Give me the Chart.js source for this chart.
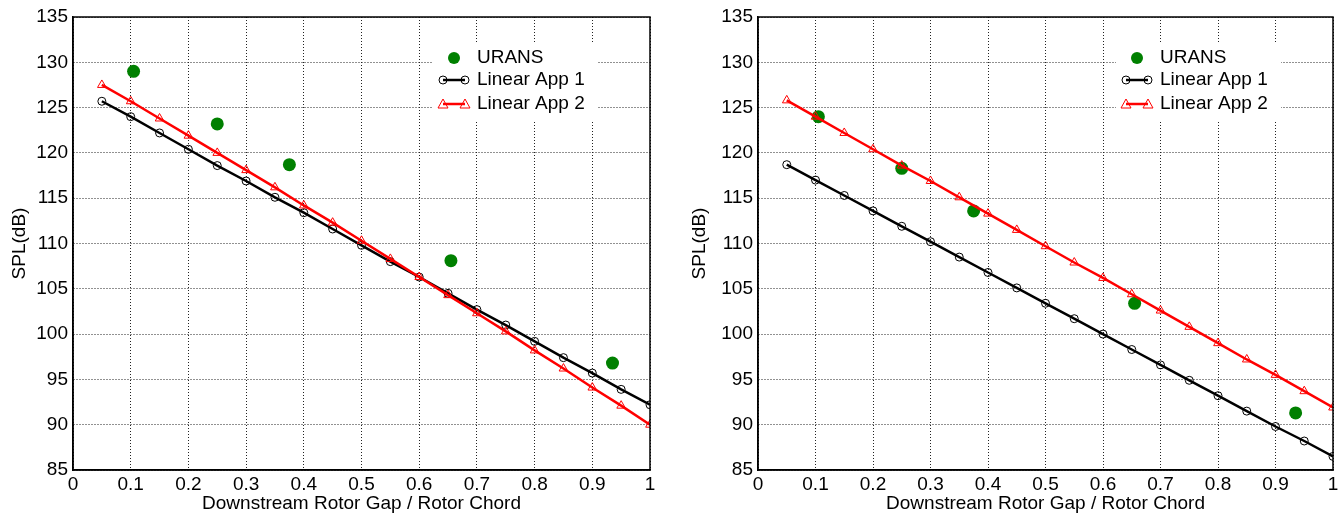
<!DOCTYPE html>
<html>
<head>
<meta charset="utf-8">
<script src="https://cdn.jsdelivr.net/npm/chart.js@4.4.0/dist/chart.umd.min.js"></script>
<style>
html, body { margin: 0; padding: 0; background: #fff; }
#c1 { position: absolute; left: 0; top: 0; }
#c2 { position: absolute; left: 680px; top: 0; }
</style>
</head>
<body>
<canvas id="c1" width="665" height="515"></canvas>
<canvas id="c2" width="663" height="515"></canvas>
<script>
// gap / chord positions of the linear approximations
var gaps = [0.05, 0.1, 0.15, 0.2, 0.25, 0.3, 0.35, 0.4, 0.45, 0.5, 0.55, 0.6, 0.65, 0.7, 0.75, 0.8, 0.85, 0.9, 0.95, 1.0];

// left panel
var leftApp1 = [125.7, 124.0, 122.2, 120.4, 118.6, 116.9, 115.1, 113.4, 111.6, 109.8, 108.0, 106.3, 104.5, 102.7, 101.0, 99.2, 97.4, 95.7, 93.9, 92.2];
var leftApp2 = [127.5, 125.7, 123.8, 121.9, 120.0, 118.1, 116.2, 114.2, 112.3, 110.3, 108.3, 106.3, 104.3, 102.3, 100.3, 98.2, 96.2, 94.1, 92.1, 90.0];
var leftUransX = [0.105, 0.25, 0.375, 0.655, 0.935];
var leftUransY = [129.0, 123.2, 118.7, 108.1, 96.8];

// right panel
var rightApp1 = [118.7, 117.0, 115.3, 113.6, 111.9, 110.2, 108.5, 106.8, 105.1, 103.4, 101.7, 100.0, 98.3, 96.6, 94.9, 93.2, 91.5, 89.8, 88.2, 86.5];
var rightApp2 = [125.8, 124.0, 122.2, 120.4, 118.6, 116.9, 115.1, 113.3, 111.5, 109.7, 107.9, 106.2, 104.4, 102.6, 100.8, 99.0, 97.2, 95.5, 93.7, 91.9];
var rightUransX = [0.105, 0.25, 0.375, 0.655, 0.935];
var rightUransY = [124.0, 118.3, 113.6, 103.4, 91.3];

var xTicks = [0, 0.1, 0.2, 0.3, 0.4, 0.5, 0.6, 0.7, 0.8, 0.9, 1];
var xTickLabels = ['0', '0.1', '0.2', '0.3', '0.4', '0.5', '0.6', '0.7', '0.8', '0.9', '1'];
var yTicks = [85, 90, 95, 100, 105, 110, 115, 120, 125, 130, 135];

var FONT = "'Liberation Sans', Arial, sans-serif";

function pairs(xs, ys) {
  return xs.map(function(x, i) { return { x: x, y: ys[i] }; });
}

var boxLegend = {
  id: 'boxLegend',
  afterDraw: function(chart) {
    var ctx = chart.ctx, a = chart.chartArea;
    var ds = chart.data.datasets;
    ctx.save();
    // frame
    ctx.strokeStyle = '#000';
    ctx.lineWidth = 1.5;
    ctx.strokeRect(a.left, a.top, a.right - a.left, a.bottom - a.top);
    // legend box
    ctx.fillStyle = '#fff';
    ctx.fillRect(a.right - 217, a.top + 26, 165, 79);
    ctx.font = '19px ' + FONT;
    ctx.textBaseline = 'middle';
    ctx.textAlign = 'left';
    var rows = [a.top + 41, a.top + 63, a.top + 87];
    var x0 = a.right - 207, x1 = a.right - 185;
    // URANS
    ctx.fillStyle = ds[0].backgroundColor;
    ctx.beginPath();
    ctx.arc(a.right - 196, rows[0], 6, 0, Math.PI * 2);
    ctx.fill();
    for (var k = 1; k < 3; k++) {
      var y = rows[k];
      ctx.strokeStyle = ds[k].borderColor;
      ctx.lineWidth = 2.5;
      ctx.beginPath();
      ctx.moveTo(x0, y);
      ctx.lineTo(x1, y);
      ctx.stroke();
      ctx.lineWidth = 1;
      [x0, x1].forEach(function(px) {
        ctx.beginPath();
        if (k === 1) {
          ctx.arc(px, y, 4, 0, Math.PI * 2);
        } else {
          ctx.moveTo(px, y - 5);
          ctx.lineTo(px + 5, y + 4);
          ctx.lineTo(px - 5, y + 4);
          ctx.closePath();
        }
        ctx.stroke();
      });
    }
    ctx.fillStyle = '#000';
    for (var j = 0; j < 3; j++) {
      ctx.fillText(ds[j].label, a.right - 173, rows[j]);
    }
    ctx.restore();
  }
};

function makeChart(id, app1, app2, ux, uy, yAxisWidth, rightPad) {
  return new Chart(document.getElementById(id), {
    type: 'line',
    data: {
      datasets: [
        {
          label: 'URANS',
          data: pairs(ux, uy),
          showLine: false,
          backgroundColor: '#008000',
          borderColor: '#008000',
          pointRadius: 6.5,
          pointBorderWidth: 0,
          order: 2
        },
        {
          label: 'Linear App 1',
          data: pairs(gaps, app1),
          borderColor: '#000',
          borderWidth: 2.5,
          backgroundColor: 'transparent',
          pointStyle: 'circle',
          pointRadius: 4,
          pointBorderWidth: 1,
          pointBorderColor: '#000',
          pointBackgroundColor: 'transparent',
          order: 1
        },
        {
          label: 'Linear App 2',
          data: pairs(gaps, app2),
          borderColor: '#ff0000',
          borderWidth: 2.5,
          backgroundColor: 'transparent',
          pointStyle: 'triangle',
          pointRadius: 5,
          pointBorderWidth: 1,
          pointBorderColor: '#ff0000',
          pointBackgroundColor: 'transparent',
          order: 0
        }
      ]
    },
    options: {
      responsive: false,
      animation: false,
      layout: { padding: { top: 17, right: rightPad, bottom: 0, left: 0 } },
      plugins: { legend: { display: false }, tooltip: { enabled: false } },
      scales: {
        x: {
          type: 'linear',
          min: 0,
          max: 1,
          afterBuildTicks: function(s) { s.ticks = xTicks.map(function(v) { return { value: v }; }); },
          afterFit: function(s) { s.height = 45; s.paddingLeft = 0; s.paddingRight = 0; },
          ticks: {
            color: '#000',
            font: { family: FONT, size: 19 },
            padding: 3,
            maxRotation: 0,
            autoSkip: false,
            callback: function(v, i) { return xTickLabels[i]; }
          },
          grid: { color: '#222', lineWidth: 1, drawTicks: false },
          border: { color: '#000', width: 1.5, dash: [1, 2] },
          title: {
            display: true,
            text: 'Downstream Rotor Gap / Rotor Chord',
            color: '#000',
            font: { family: FONT, size: 19 },
            padding: { top: 0, bottom: 0 }
          }
        },
        y: {
          type: 'linear',
          min: 85,
          max: 135,
          afterBuildTicks: function(s) { s.ticks = yTicks.map(function(v) { return { value: v }; }); },
          afterFit: function(s) { s.width = yAxisWidth; s.paddingTop = 0; s.paddingBottom = 0; },
          ticks: {
            color: '#000',
            font: { family: FONT, size: 19 },
            padding: 5,
            autoSkip: false
          },
          grid: { color: '#222', lineWidth: 1, drawTicks: false },
          border: { color: '#000', width: 1.5, dash: [1, 2] },
          title: {
            display: true,
            text: 'SPL(dB)',
            color: '#000',
            font: { family: FONT, size: 19 },
            padding: { top: 8, bottom: 0 }
          }
        }
      }
    },
    plugins: [boxLegend]
  });
}

makeChart('c1', leftApp1, leftApp2, leftUransX, leftUransY, 73, 15);
makeChart('c2', rightApp1, rightApp2, rightUransX, rightUransY, 78, 10);
</script>
</body>
</html>
